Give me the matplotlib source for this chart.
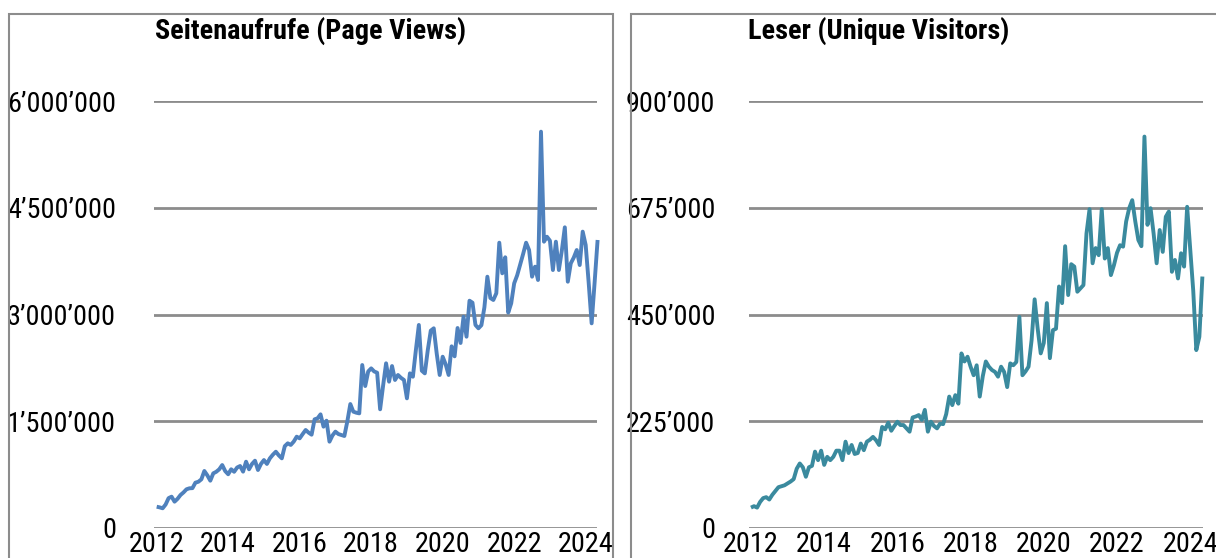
import numpy as np
import matplotlib
matplotlib.use("Agg")
import matplotlib.pyplot as plt
import matplotlib.font_manager as fm
from matplotlib.patches import Rectangle
from matplotlib.ticker import FuncFormatter

# ---------------- data (monthly, Jan 2012 .. May 2024), values in thousands ----------------
page_views_k = [
    299, 290, 277, 330, 420, 440, 370, 410, 464, 500,
    544, 558, 560, 637, 650, 684, 801, 740, 665, 768,
    790, 825, 885, 800, 755, 825, 790, 850, 871, 792,
    932, 825, 900, 946, 815, 900, 955, 900, 979, 1030,
    1072, 1020, 979, 1150, 1190, 1167, 1214, 1283, 1260, 1320,
    1377, 1340, 1311, 1527, 1541, 1597, 1424, 1508, 1213, 1300,
    1354, 1320, 1307, 1293, 1500, 1742, 1635, 1620, 1611, 2290,
    1995, 2200, 2243, 2200, 2182, 1668, 2000, 2314, 2056, 2276,
    2080, 2150, 2110, 2080, 1822, 2173, 2126, 2500, 2853, 2210,
    2173, 2500, 2773, 2806, 2450, 2150, 2407, 2300, 2150, 2553,
    2412, 2810, 2600, 2969, 2688, 3194, 3166, 2853, 2806, 2850,
    3100, 3531, 3232, 3204, 3298, 4009, 3579, 3804, 3026, 3157,
    3438, 3550, 3700, 3850, 4009, 3906, 3531, 3672, 3485, 5569,
    4023, 4093, 4037, 3625, 4023, 3625, 3900, 4225, 3461, 3719,
    3800, 3906, 3695, 4164, 3977, 3450, 2876, 3450, 4047,
]
unique_visitors_k = [
    43, 46, 43, 55, 63, 65, 60, 70, 78, 86,
    88, 90, 94, 98, 103, 125, 136, 128, 108, 128,
    131, 161, 143, 163, 133, 150, 143, 150, 163, 163,
    143, 182, 158, 175, 156, 158, 178, 164, 182, 186,
    192, 185, 175, 213, 208, 222, 205, 215, 224, 217,
    217, 210, 203, 233, 235, 238, 228, 249, 203, 224,
    215, 210, 220, 219, 240, 277, 259, 280, 262, 368,
    351, 361, 340, 322, 343, 277, 320, 351, 340, 333,
    329, 319, 340, 329, 297, 347, 343, 350, 445, 322,
    330, 340, 396, 482, 420, 368, 390, 474, 358, 417,
    420, 509, 474, 594, 491, 556, 551, 498, 505, 512,
    621, 672, 558, 590, 575, 672, 568, 590, 533, 554,
    580, 596, 593, 646, 674, 691, 646, 607, 594, 825,
    639, 674, 621, 558, 628, 582, 656, 667, 540, 565,
    526, 579, 551, 677, 590, 500, 375, 403, 530,
]
year_labels = ["2012", "2014", "2016", "2018", "2020", "2022", "2024"]
pv_ticks = [0, 1500000, 3000000, 4500000, 6000000]
uv_ticks = [0, 225000, 450000, 675000, 900000]
titles = ["Seitenaufrufe (Page Views)", "Leser (Unique Visitors)"]

# ---------------- fonts ----------------
names = {f.name for f in fm.fontManager.ttflist}
FONT = "Liberation Sans"
for cand in ["Liberation Sans Narrow", "Arial Narrow", "Nimbus Sans Narrow",
             "Roboto Condensed", "PT Sans Narrow", "Pragati Narrow",
             "Archivo Narrow", "Asap Condensed"]:
    if cand in names:
        FONT = cand
        break
plt.rcParams["font.family"] = [FONT, "DejaVu Sans"]

W, H = 1216, 558
fig = plt.figure(figsize=(W / 100, H / 100), dpi=100)
fig.patch.set_facecolor("white")

def fx(px):
    return px / W

def fy(py):
    return (H - py) / H

# chart frames
frame_col = "#8c8c8c"
fig.patches.append(Rectangle((fx(9), fy(600)), fx(612.7 - 9), (600 - 13.5) / H,
                             transform=fig.transFigure, fill=False,
                             edgecolor=frame_col, lw=1.5, zorder=0))
fig.patches.append(Rectangle((fx(630.5), fy(600)), fx(1230 - 630.5), (600 - 13.5) / H,
                             transform=fig.transFigure, fill=False,
                             edgecolor=frame_col, lw=1.5, zorder=0))

fmt = FuncFormatter(lambda v, p: f"{int(round(v)):,}".replace(",", "\u2019"))

panels = [
    dict(vals=page_views_k, ticks=pv_ticks, color="#4F81BD",
         left=154.3, right=597.3, xlim=(-0.8, 147.9), pad=27.5, title_x=155),
    dict(vals=unique_visitors_k, ticks=uv_ticks, color="#3A8A9E",
         left=749.3, right=1202.7, xlim=(-0.55, 148.1), pad=24.5, title_x=748.5),
]

LABEL_SIZE = 20.3
TITLE_SIZE = 20.3
top_px, bot_px = 101, 528
for p, title in zip(panels, titles):
    ax = fig.add_axes([fx(p["left"]), fy(bot_px), fx(p["right"] - p["left"]), (bot_px - top_px) / H])
    vals = np.array(p["vals"], dtype=float) * 1000
    x = np.arange(len(vals))
    ax.plot(x, vals, color=p["color"], lw=2.8, clip_on=False, zorder=3,
            solid_joinstyle="round", solid_capstyle="butt")
    ax.set_xlim(*p["xlim"])
    ax.set_ylim(p["ticks"][0], p["ticks"][-1])
    ax.set_yticks(p["ticks"])
    ax.yaxis.set_major_formatter(fmt)
    ax.set_xticks(np.arange(len(year_labels)) * 24)
    ax.set_xticklabels(year_labels)
    for s in ax.spines.values():
        s.set_visible(False)
    ax.set_axisbelow(True)
    ax.yaxis.grid(True, color="#8c8c8c", lw=2.0)
    ax.xaxis.grid(False)
    ax.tick_params(axis="both", length=0, labelsize=LABEL_SIZE, colors="black")
    ax.tick_params(axis="y", pad=p["pad"])
    ax.tick_params(axis="x", pad=2)
    ax.patch.set_alpha(0)
    fig.text(fx(p["title_x"]), fy(38.5), title, fontsize=TITLE_SIZE, fontweight="bold",
             ha="left", va="baseline", color="black")

fig.savefig("out.png", dpi=100, facecolor="white")
